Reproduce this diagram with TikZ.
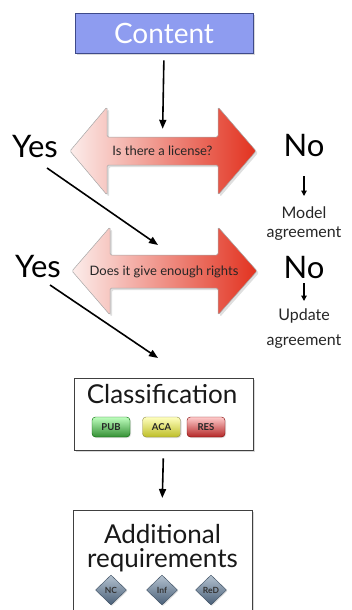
\documentclass[tikz,border=0pt]{standalone}
\usepackage{fontspec}
\setmainfont{Lato}
\usetikzlibrary{shapes.geometric,shadows,arrows.meta}
\definecolor{contentblue}{HTML}{8E9CF0}
\definecolor{contentedge}{HTML}{3E4A8A}
\definecolor{pinklight}{HTML}{FCEDEB}
\definecolor{redstrong}{HTML}{E2321F}
\definecolor{steeltop}{HTML}{B4C2D0}
\definecolor{steelbot}{HTML}{4A6078}
\begin{document}
\begin{tikzpicture}[x=1pt,y=-1pt,
  bigword/.style={font=\fontsize{31}{32}\selectfont, anchor=base, text=black},
  sideword/.style={font=\fontsize{16}{18}\selectfont, anchor=base, text=black!85},
  flow/.style={-{Triangle[length=9pt,width=7pt]}, line width=1.6pt},
  smallflow/.style={-{Triangle[length=5.5pt,width=5.5pt]}, line width=1.2pt},
  dblarrow/.style={left color=pinklight, right color=redstrong, draw=black!35, line width=0.5pt,
    rounded corners=1.5pt, drop shadow={shadow xshift=2pt, shadow yshift=-2pt, opacity=0.25}},
  question/.style={font=\fontsize{13}{15}\selectfont, text=black!85, inner sep=0pt},
  box/.style={draw=black!75, line width=0.8pt, fill=white,
    drop shadow={shadow xshift=2pt, shadow yshift=-2pt, opacity=0.3}},
  tag/.style={rounded corners=3.5pt, minimum width=38pt, minimum height=20pt, inner sep=0pt,
    font=\fontsize{9.5}{10}\selectfont\bfseries, text=black!85,
    drop shadow={shadow xshift=1pt, shadow yshift=-1pt, opacity=0.25}},
  req/.style={diamond, minimum width=31pt, minimum height=30pt, inner sep=0pt,
    top color=steeltop, bottom color=steelbot, draw=steelbot!80!black,
    font=\fontsize{8.5}{9}\selectfont\bfseries, text=black!80,
    drop shadow={shadow xshift=1pt, shadow yshift=-1pt, opacity=0.25}}
]
\useasboundingbox (0,0) rectangle (352,610);

% Content box
\node[draw=contentedge, line width=0.6pt, fill=contentblue, minimum width=178pt, minimum height=40pt,
  text=white, font=\fontsize{28}{30}\selectfont, inner sep=0pt,
  drop shadow={shadow xshift=2pt, shadow yshift=-2pt, opacity=0.3}] (content) at (164,33) {Content};

% Double arrow 1
\path[dblarrow] (70,151) -- (107,107) -- (107,137) -- (218,137) -- (218,107) -- (256,151)
  -- (218,195) -- (218,165) -- (107,165) -- (107,195) -- cycle;
\node[question, minimum width=111pt, minimum height=28pt] (q1) at (162.5,151) {Is there a license?};

% Double arrow 2
\path[dblarrow] (72,271) -- (110,227) -- (110,255) -- (218,255) -- (218,227) -- (257,271)
  -- (218,315) -- (218,288) -- (110,288) -- (110,315) -- cycle;
\node[question, minimum width=108pt, minimum height=33pt] (q2) at (164,271.5) {Does it give enough rights};

% Yes / No labels
\node[bigword] (yes1) at (35,157) {Yes};
\node[bigword] (no1) at (304,156) {No};
\node[sideword] (model) at (304,218) {Model};
\node[sideword] (agr1) at (304,237) {agreement};

\node[bigword] (yes2) at (38,277) {Yes};
\node[bigword] (no2) at (304,278) {No};
\node[sideword] (update) at (304,320) {Update};
\node[sideword] (agr2) at (304,345) {agreement};

% Classification box
\node[box, minimum width=179pt, minimum height=72pt] (class) at (163.5,414) {};
\node[font=\fontsize{26}{28}\selectfont, anchor=base, text=black!90] (classtitle) at (162,403) {Classification};
\node[tag, top color=green!25!white, bottom color=green!45!black!80, draw=green!40!black] (pub) at (111,427) {PUB};
\node[tag, top color=yellow!25!white, bottom color=yellow!70!black!85, draw=yellow!50!black] (aca) at (161.5,427) {ACA};
\node[tag, top color=red!20!white, bottom color=red!65!black!85, draw=red!50!black] (res) at (206,427) {RES};

% Additional requirements box
\path[box] (73,510) rectangle (252,625);
\node[font=\fontsize{26}{24}\selectfont, align=center, anchor=base, text=black!90] (addtitle) at (162.5,567) {Additional\\requirements};
\node[req] (nc) at (111,590) {NC};
\node[req] (inf) at (162,590) {Inf};
\node[req] (red) at (211,590) {ReD};

% Connectors
\coordinate (t2) at (158,245);
\coordinate (s2) at (47,168);
\coordinate (t3) at (158,358);
\coordinate (s3) at (50,285);
\coordinate (addtop) at (162,510);

\draw[flow, shorten <=7pt, shorten >=8pt] (content.south) -- (q1.north);
\draw[flow] (s2) -- (t2);
\draw[flow] (s3) -- (t3);
\draw[flow, shorten <=8pt, shorten >=12pt] (class.south) -- (addtop);
\draw[smallflow] ([yshift=-20pt]no1.base) -- ([yshift=22pt]model.base);
\draw[smallflow] ([yshift=-5pt]no2.base) -- ([yshift=19pt]update.base);
\end{tikzpicture}
\end{document}
